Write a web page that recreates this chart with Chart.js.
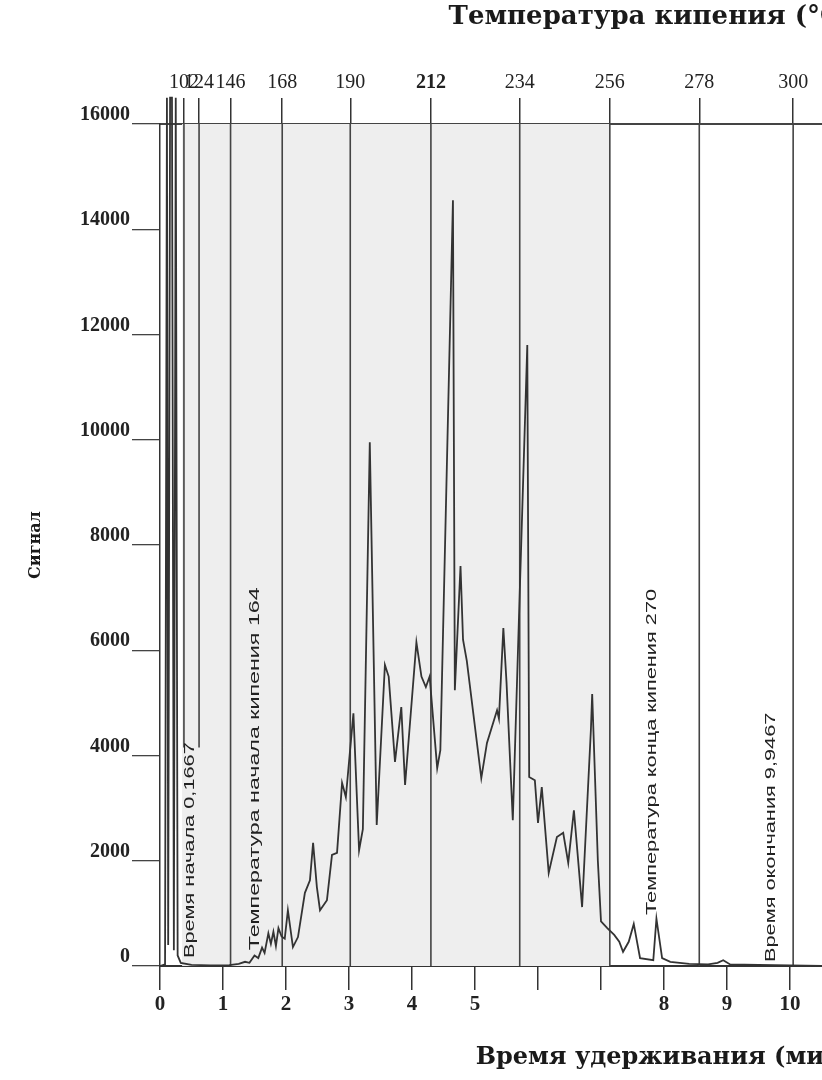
<!DOCTYPE html>
<html>
<head>
<meta charset="utf-8">
<script src="https://cdn.jsdelivr.net/npm/chart.js@4.4.0/dist/chart.umd.min.js"></script>
<style>
  html, body { margin: 0; padding: 0; background: #fff; overflow: hidden; }
  #wrap { width: 870px; height: 1080px; }
</style>
</head>
<body>
<div id="wrap"><canvas id="myChart" width="870" height="1080"></canvas></div>
<script>
const ctx = document.getElementById('myChart');

// retention time (min) and detector signal
const retTimes = [0, 0.08, 0.11, 0.13, 0.16, 0.19, 0.22, 0.25, 0.28, 0.33, 0.5, 0.8, 1.1, 1.25, 1.35, 1.42,
  1.5, 1.56, 1.62, 1.66, 1.72, 1.76, 1.8, 1.84, 1.88, 1.93, 1.98, 2.03, 2.11, 2.19, 2.3, 2.38, 2.43, 2.49,
  2.54, 2.65, 2.73, 2.81, 2.89, 2.95, 3.07, 3.16, 3.22, 3.33, 3.44, 3.57, 3.63, 3.73, 3.83, 3.89, 4.07,
  4.15, 4.22, 4.28, 4.4, 4.45, 4.65, 4.68, 4.77, 4.81, 4.87, 5.1, 5.19, 5.35, 5.38, 5.45, 5.5, 5.6, 5.83,
  5.86, 5.95, 6.0, 6.06, 6.17, 6.3, 6.4, 6.48, 6.57, 6.7, 6.84, 6.86, 6.95, 7.0, 7.1, 7.21, 7.29, 7.35,
  7.44, 7.52, 7.62, 7.83, 7.88, 7.97, 8.1, 8.4, 8.7, 8.85, 8.94, 9.05, 9.5, 10.0, 10.5, 11];
const signal = [0, 30, 16500, 400, 16500, 16500, 300, 16500, 200, 60, 20, 10, 15, 40, 80, 60,
  200, 150, 350, 250, 620, 420, 650, 380, 720, 560, 520, 1060, 360, 550, 1390, 1630, 2340, 1500,
  1060, 1250, 2110, 2150, 3480, 3210, 4800, 2200, 2600, 9950, 2680, 5720, 5500, 3880, 4920, 3440, 6150,
  5500, 5300, 5500, 3760, 4100, 14550, 5240, 7600, 6200, 5800, 3570, 4240, 4860, 4700, 6420, 5400, 2770, 11800,
  3590, 3530, 2720, 3400, 1770, 2450, 2530, 1960, 2960, 1120, 4500, 5170, 2000, 850, 720, 590, 460, 270,
  460, 800, 150, 110, 900, 150, 80, 40, 30, 60, 110, 30, 20, 10, 0, 0];

// boiling temperature scale (top axis)
const tempLabels = [102, 124, 146, 168, 190, 212, 234, 256, 278, 300];
const tempTimes = [0.38, 0.62, 1.12, 1.94, 3.02, 4.3, 5.71, 7.14, 8.56, 10.05];
const tempLineEnds = [4150, 4150, 0, 0, 0, 0, 0, 0, 0, 0];

const timeTicks = [0, 1, 2, 3, 4, 5, 6, 7, 8, 9, 10];
const timeTickLabels = ['0', '1', '2', '3', '4', '5', '', '', '8', '9', '10'];
const yTicks = [0, 2000, 4000, 6000, 8000, 10000, 12000, 14000, 16000];
const shadeRange = [0.35, 7.14];

const noteTexts = ['Время начала 0,1667', 'Температура начала кипения 164',
  'Температура конца кипения 270', 'Время окончания 9,9467'];
const noteTimes = [0.48, 1.51, 7.81, 9.7];
const noteBases = [150, 300, 970, 76];

const signalPoints = retTimes.map((t, i) => ({ x: t, y: signal[i] }));
const tempLineData = [];
tempTimes.forEach((t, i) => {
  tempLineData.push({ x: t, y: 16000 }, { x: t, y: tempLineEnds[i] }, { x: t, y: null });
});
const shadePoints = shadeRange.map(t => ({ x: t, y: 16000 }));

const serif = "'Liberation Serif', 'Times New Roman', serif";

// rotated notes written along the vertical marker lines
const notesPlugin = {
  id: 'notes',
  afterDatasetsDraw(chart) {
    const { ctx, scales } = chart;
    ctx.save();
    ctx.fillStyle = '#222';
    ctx.font = '15px "Liberation Sans", Arial, sans-serif';
    ctx.textBaseline = 'middle';
    ctx.textAlign = 'left';
    noteTexts.forEach((txt, i) => {
      const px = scales.x.getPixelForValue(noteTimes[i]);
      const py = scales.y.getPixelForValue(noteBases[i]);
      ctx.save();
      ctx.translate(px, py);
      ctx.rotate(-Math.PI / 2);
      ctx.scale(i === 1 ? 1.55 : 1.45, 1);
      ctx.fillText(txt, 0, 0);
      ctx.restore();
    });
    ctx.restore();
  }
};

new Chart(ctx, {
  type: 'line',
  data: {
    datasets: [
      {
        label: 'Сигнал',
        data: signalPoints,
        borderColor: '#333',
        borderWidth: 1.8,
        pointRadius: 0,
        tension: 0,
        clip: false,
        order: 0
      },
      {
        label: 'temp',
        data: tempLineData,
        borderColor: '#444',
        borderWidth: 1.6,
        pointRadius: 0,
        spanGaps: false,
        order: 1
      },
      {
        label: 'shade',
        data: shadePoints,
        borderWidth: 0,
        pointRadius: 0,
        fill: 'origin',
        backgroundColor: '#eeeeee',
        order: 2
      }
    ]
  },
  options: {
    responsive: false,
    animation: false,
    layout: { padding: { right: 17 } },
    plugins: {
      legend: { display: false },
      tooltip: { enabled: false }
    },
    scales: {
      x: {
        type: 'linear',
        position: 'bottom',
        min: 0,
        max: 11,
        afterFit: s => { s.height = 114; },
        afterBuildTicks: s => { s.ticks = timeTicks.map(v => ({ value: v })); },
        ticks: {
          callback: (v, i) => timeTickLabels[i],
          color: '#222',
          font: { family: serif, size: 21, weight: 'bold' },
          padding: 2,
          maxRotation: 0,
          autoSkip: false
        },
        grid: { drawOnChartArea: false, tickLength: 24, color: '#333', lineWidth: 1.5 },
        border: { display: true, color: '#333', width: 2 },
        title: {
          display: true,
          text: 'Время удерживания (мин)',
          align: 'end',
          color: '#1a1a1a',
          font: { family: "'DejaVu Serif', serif", size: 24, weight: 'bold' },
          padding: { bottom: 8 }
        }
      },
      xTop: {
        type: 'linear',
        position: 'top',
        min: 0,
        max: 11,
        afterFit: s => { s.height = 124; },
        afterBuildTicks: s => { s.ticks = tempTimes.map(v => ({ value: v })); },
        ticks: {
          callback: (v, i) => tempLabels[i],
          color: '#222',
          font: c => ({ family: serif, size: 20, weight: c.tick && c.tick.value === 4.3 ? 'bold' : 'normal' }),
          padding: 3,
          maxRotation: 0,
          autoSkip: false
        },
        grid: { drawOnChartArea: false, tickLength: 26, color: '#333', lineWidth: 1.5 },
        border: { display: true, color: '#444', width: 2 },
        title: {
          display: true,
          text: 'Температура кипения (°C)',
          align: 'end',
          color: '#1a1a1a',
          font: { family: "'DejaVu Serif', serif", size: 26, weight: 'bold' },
          padding: { top: 2 }
        }
      },
      y: {
        min: 0,
        max: 16000,
        afterFit: s => { s.width = 160; },
        afterBuildTicks: s => { s.ticks = yTicks.map(v => ({ value: v })); },
        ticks: {
          callback: v => String(v),
          color: '#222',
          font: { family: serif, size: 20, weight: 'bold' },
          padding: 2,
          labelOffset: -9
        },
        grid: { drawOnChartArea: false, tickLength: 28, color: '#444', lineWidth: 1.3 },
        border: { display: true, color: '#333', width: 1.5 },
        title: {
          display: true,
          text: 'Сигнал',
          color: '#1a1a1a',
          font: { family: "'DejaVu Serif', serif", size: 16, weight: 'bold' },
          padding: { top: 26 }
        }
      }
    }
  },
  plugins: [notesPlugin]
});
</script>
</body>
</html>
